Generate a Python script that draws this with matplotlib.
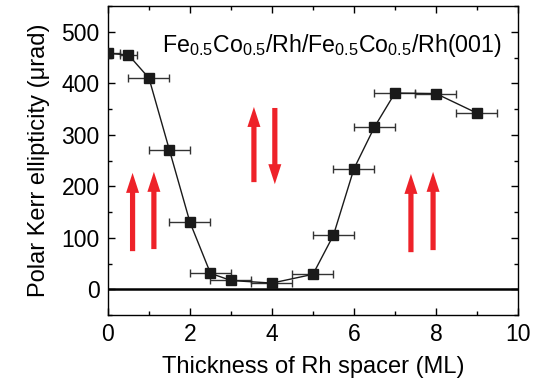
import matplotlib
matplotlib.use("Agg")
import matplotlib.pyplot as plt
from matplotlib.patches import FancyArrowPatch
from matplotlib.ticker import MultipleLocator

plt.rcParams['font.family'] = ['Liberation Sans', 'DejaVu Sans']
plt.rcParams['mathtext.fontset'] = 'custom'
plt.rcParams['mathtext.rm'] = 'Liberation Sans'
plt.rcParams['mathtext.it'] = 'Liberation Sans'

# data
thickness = [0.0, 0.5, 1.0, 1.5, 2.0, 2.5, 3.0, 4.0, 5.0, 5.5, 6.0, 6.5, 7.0, 8.0, 9.0]
kerr = [458, 455, 410, 270, 130, 31, 17, 12, 29, 105, 234, 315, 381, 380, 342]
xerr = [0.3, 0.2, 0.5, 0.5, 0.5, 0.5, 0.5, 0.5, 0.5, 0.5, 0.5, 0.5, 0.5, 0.5, 0.5]

# arrows: (x, y_start, y_end)
arrow_x = [0.6, 1.12, 3.56, 4.07, 7.39, 7.93]
arrow_y0 = [74, 78, 208, 352, 72, 76]
arrow_y1 = [226, 228, 354, 204, 224, 228]

title = "Fe$_{0.5}$Co$_{0.5}$/Rh/Fe$_{0.5}$Co$_{0.5}$/Rh(001)"

fig = plt.figure(figsize=(5.38, 3.90), dpi=100)
ax = fig.add_axes([0.2007, 0.1923, 0.762, 0.7923])

ax.axhline(0, color='black', lw=1.8, zorder=1)

ax.errorbar(thickness, kerr, xerr=xerr, fmt='s-', color='#1a1a1a', ecolor='#333333',
            elinewidth=1.0, capsize=3, capthick=1.0, markersize=7, lw=1.0, zorder=3)

for x, y0, y1 in zip(arrow_x, arrow_y0, arrow_y1):
    arr = FancyArrowPatch((x, y0), (x, y1), arrowstyle='simple,head_length=1.0,head_width=0.65,tail_width=0.26',
                          mutation_scale=14.4, color='#ee2229', lw=0, capstyle='round', zorder=2,
                          shrinkA=0, shrinkB=0)
    ax.add_patch(arr)

ax.text(0.545, 0.851, title, transform=ax.transAxes, ha='center', va='baseline', fontsize=16.7)

ax.set_xlim(0, 10)
ax.set_ylim(-50, 550)
ax.xaxis.set_major_locator(MultipleLocator(2))
ax.xaxis.set_minor_locator(MultipleLocator(1))
ax.yaxis.set_major_locator(MultipleLocator(100))
ax.yaxis.set_minor_locator(MultipleLocator(50))
ax.tick_params(which='both', direction='in', top=True, right=True, labelsize=16.5, width=1.0)
ax.tick_params(which='major', length=5, pad=6)
ax.tick_params(which='minor', length=3)
for s in ax.spines.values():
    s.set_linewidth(1.0)

ax.set_xlabel('Thickness of Rh spacer (ML)', fontsize=17, labelpad=7)
ax.set_ylabel('Polar Kerr ellipticity (\u03bcrad)', fontsize=17, labelpad=8)

fig.savefig('out.png', dpi=100)
